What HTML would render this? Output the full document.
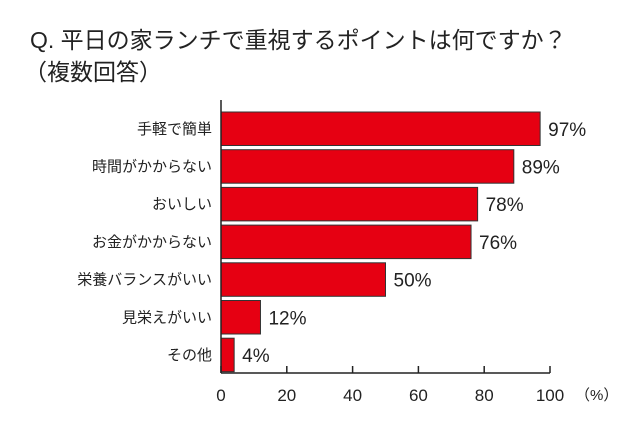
<!DOCTYPE html>
<html><head><meta charset="utf-8"><style>
body{margin:0;background:#fff;width:640px;height:426px;overflow:hidden;font-family:"Liberation Sans","Noto Sans CJK JP",sans-serif;}
</style></head><body>
<svg width="640" height="426" style="font-family:'Liberation Sans','Noto Sans CJK JP',sans-serif">
<text x="30" y="48" font-size="23" fill="#222">Q. 平日の家ランチで重視するポイントは何ですか？</text>
<text x="24" y="80" font-size="23" fill="#222">（複数回答）</text>
<g id="g"></g>
</svg>
<script>
const categories=["手軽で簡単","時間がかからない","おいしい","お金がかからない","栄養バランスがいい","見栄えがいい","その他"];
const values=[97,89,78,76,50,12,4];
const ticks=[0,20,40,60,80,100];
const x0=221,x1=550,yTop=112,pitch=37.7,bh=33.5,axisY=373;
const xs=v=>x0+(x1-x0)*v/100;
const g=document.getElementById('g');
const ns='http://www.w3.org/2000/svg';
function mk(t,a,txt){const e=document.createElementNS(ns,t);for(const k in a)e.setAttribute(k,a[k]);if(txt!=null)e.textContent=txt;g.appendChild(e);return e;}
categories.forEach((c,i)=>{
 const y=yTop+i*pitch;
 const r=mk('rect',{x:x0,y:y,width:xs(values[i])-x0,height:bh,fill:'#e60012',stroke:'#333','stroke-width':1});
 
 
 const l=mk('text',{x:212,y:y+bh/2+5,'font-size':15,'text-anchor':'end',fill:'#222'},c);
 
 
 const v=mk('text',{x:xs(values[i])+8,y:y+bh/2+7,'font-size':19,fill:'#222'},values[i]+'%');
 
 
});
const ya=mk('line',{x1:x0,y1:100,x2:x0,y2:axisY,stroke:'#222','stroke-width':1.5});


const xa=mk('line',{x1:x0,y1:axisY,x2:x1,y2:axisY,stroke:'#222','stroke-width':1.5});


ticks.forEach(t=>{
 const tk=mk('line',{x1:xs(t),y1:axisY-7,x2:xs(t),y2:axisY,stroke:'#222','stroke-width':1.5});
 
 
 const tl=mk('text',{x:xs(t),y:401,'font-size':17,'text-anchor':'middle',fill:'#222'},t);
 
 
});
const u=mk('text',{x:575,y:400,'font-size':15,fill:'#222'},'（%）');


</script>
</body></html>
